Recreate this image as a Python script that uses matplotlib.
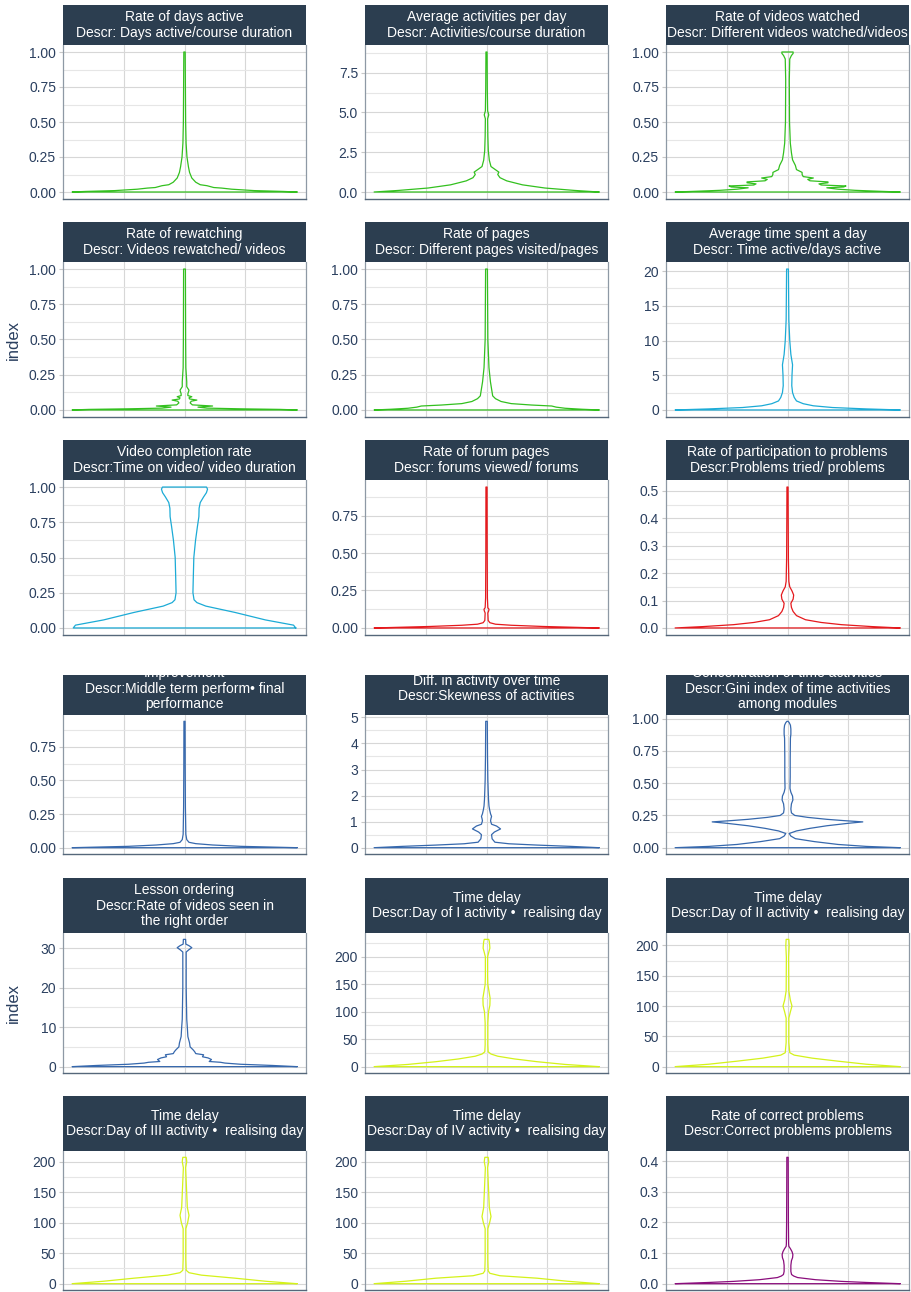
import numpy as np
import matplotlib
matplotlib.use("Agg")
import matplotlib.pyplot as plt
from matplotlib.ticker import MultipleLocator, FormatStrFormatter

plt.rcParams['font.family'] = ['Liberation Sans', 'DejaVu Sans']

# ---- data: violin outlines (value, relative half-width) ----
days_active_y = [0, 0.004, 0.01, 0.02, 0.028, 0.032, 0.045, 0.052, 0.07, 0.1, 0.14, 0.18, 0.25, 0.35, 0.5, 0.75, 1.0]
days_active_w = [1.0, 0.88, 0.62, 0.42, 0.33, 0.26, 0.2, 0.14, 0.1, 0.065, 0.045, 0.035, 0.022, 0.014, 0.01, 0.008, 0.006]

activities_y = [0, 0.1, 0.25, 0.45, 0.7, 0.9, 1.1, 1.25, 1.4, 1.6, 2.0, 2.6, 3.5, 4.6, 4.85, 5.1, 6.5, 8.8]
activities_w = [1.0, 0.78, 0.52, 0.32, 0.18, 0.12, 0.1, 0.11, 0.08, 0.04, 0.025, 0.016, 0.012, 0.01, 0.02, 0.01, 0.007, 0.005]

videos_y = [0, 0.005, 0.012, 0.02, 0.03, 0.036, 0.043, 0.05, 0.058, 0.066, 0.072, 0.08, 0.09, 0.1, 0.11,
            0.125, 0.14, 0.16, 0.19, 0.23, 0.28, 0.35, 0.5, 0.8, 0.95, 0.975, 0.99, 1.0]
videos_w = [1.0, 0.82, 0.6, 0.45, 0.35, 0.5, 0.52, 0.3, 0.28, 0.36, 0.36, 0.2, 0.18, 0.23, 0.14,
            0.13, 0.13, 0.08, 0.07, 0.045, 0.035, 0.025, 0.018, 0.016, 0.02, 0.035, 0.05, 0.05]

rewatch_y = [0, 0.004, 0.008, 0.013, 0.02, 0.028, 0.036, 0.05, 0.062, 0.07, 0.078, 0.086, 0.094, 0.102,
             0.115, 0.14, 0.165, 0.2, 0.3, 0.5, 1.0]
rewatch_w = [1.0, 0.85, 0.5, 0.2, 0.12, 0.25, 0.07, 0.05, 0.06, 0.11, 0.045, 0.04, 0.065, 0.03,
             0.03, 0.04, 0.02, 0.02, 0.012, 0.01, 0.008]

pages_y = [0, 0.005, 0.012, 0.02, 0.028, 0.035, 0.045, 0.06, 0.08, 0.1, 0.15, 0.2, 0.3, 0.5, 0.75, 1.0]
pages_w = [1.0, 0.85, 0.7, 0.62, 0.58, 0.4, 0.22, 0.13, 0.08, 0.055, 0.045, 0.035, 0.022, 0.012, 0.01, 0.008]

time_day_y = [0, 0.15, 0.35, 0.6, 0.9, 1.3, 1.8, 2.5, 3.5, 5, 6.5, 8, 10, 13, 16.5, 20.3]
time_day_w = [1.0, 0.7, 0.4, 0.23, 0.14, 0.08, 0.06, 0.045, 0.038, 0.04, 0.045, 0.03, 0.02, 0.012, 0.01, 0.008]

completion_y = [0, 0.02, 0.057, 0.11, 0.155, 0.18, 0.2, 0.25, 0.35, 0.5, 0.62, 0.72, 0.79, 0.85, 0.89, 0.93, 0.96, 0.985, 1.0]
completion_w = [0.99, 0.97, 0.72, 0.45, 0.19, 0.11, 0.085, 0.075, 0.078, 0.083, 0.098, 0.115, 0.128, 0.13, 0.14, 0.17, 0.195, 0.205, 0.196]

forum_y = [0, 0.004, 0.01, 0.018, 0.025, 0.035, 0.05, 0.1, 0.115, 0.125, 0.135, 0.2, 0.5, 0.94]
forum_w = [1.0, 0.8, 0.5, 0.22, 0.08, 0.03, 0.015, 0.012, 0.02, 0.022, 0.012, 0.008, 0.006, 0.005]

tried_y = [0, 0.005, 0.012, 0.02, 0.03, 0.045, 0.06, 0.075, 0.09, 0.105, 0.12, 0.135, 0.15, 0.17, 0.25, 0.4, 0.514]
tried_w = [1.0, 0.75, 0.48, 0.3, 0.16, 0.08, 0.05, 0.035, 0.03, 0.05, 0.055, 0.04, 0.02, 0.012, 0.008, 0.006, 0.005]

improve_y = [0, 0.004, 0.01, 0.02, 0.03, 0.04, 0.06, 0.1, 0.3, 0.6, 0.94]
improve_w = [1.0, 0.8, 0.5, 0.25, 0.1, 0.04, 0.02, 0.012, 0.008, 0.006, 0.005]

skew_y = [0, 0.05, 0.1, 0.15, 0.21, 0.34, 0.5, 0.6, 0.72, 0.83, 0.9, 1.03, 1.12, 1.2, 1.3, 1.45, 1.6, 1.85, 2.2, 2.6, 3.5, 4.85]
skew_w = [1.0, 0.75, 0.45, 0.2, 0.075, 0.05, 0.045, 0.07, 0.125, 0.09, 0.045, 0.036, 0.04, 0.045, 0.036, 0.028, 0.022, 0.018, 0.015, 0.012, 0.009, 0.007]

gini_y = [0, 0.01, 0.025, 0.047, 0.07, 0.09, 0.11, 0.13, 0.15, 0.17, 0.19, 0.2, 0.21, 0.22, 0.235, 0.25,
          0.27, 0.3, 0.34, 0.37, 0.4, 0.43, 0.46, 0.55, 0.7, 0.85, 0.88, 0.92, 0.95, 0.97, 0.98]
gini_w = [1.0, 0.7, 0.45, 0.24, 0.07, 0.03, 0.015, 0.08, 0.2, 0.35, 0.55, 0.67, 0.5, 0.35, 0.18, 0.065,
          0.035, 0.03, 0.035, 0.048, 0.045, 0.03, 0.022, 0.024, 0.024, 0.026, 0.03, 0.03, 0.026, 0.015, 0.005]

order_y = [0, 0.3, 0.6, 0.9, 1.1, 1.3, 1.8, 2.2, 2.5, 3.0, 3.3, 3.8, 4.3, 5, 6, 7.6, 10, 12, 20, 29, 29.6, 30.1, 30.6, 31, 32.2]
order_w = [1.0, 0.78, 0.5, 0.36, 0.32, 0.22, 0.24, 0.21, 0.16, 0.17, 0.1, 0.09, 0.075, 0.05, 0.045, 0.03, 0.025, 0.02, 0.015, 0.015, 0.04, 0.065, 0.04, 0.012, 0.01]

delay1_y = [0, 4, 9, 14, 19, 23, 27, 40, 80, 100, 112, 125, 140, 150, 165, 200, 210, 216, 222, 228, 232]
delay1_w = [1.0, 0.7, 0.45, 0.25, 0.1, 0.04, 0.015, 0.012, 0.012, 0.018, 0.03, 0.032, 0.02, 0.012, 0.01, 0.01, 0.022, 0.03, 0.028, 0.025, 0.02]

delay2_y = [0, 4, 9, 14, 19, 23, 40, 80, 90, 100, 110, 125, 180, 200, 210]
delay2_w = [1.0, 0.7, 0.45, 0.22, 0.06, 0.02, 0.012, 0.012, 0.025, 0.04, 0.025, 0.012, 0.01, 0.015, 0.012]

delay3_y = [0, 4, 9, 14, 18, 22, 40, 90, 100, 112, 125, 190, 200, 207]
delay3_w = [1.0, 0.72, 0.45, 0.15, 0.04, 0.015, 0.012, 0.012, 0.028, 0.04, 0.025, 0.01, 0.02, 0.015]

delay4_y = [0, 4, 9, 13, 17, 21, 40, 90, 100, 110, 125, 190, 200, 207]
delay4_w = [1.0, 0.72, 0.45, 0.12, 0.03, 0.015, 0.012, 0.012, 0.028, 0.04, 0.025, 0.01, 0.02, 0.015]

correct_y = [0, 0.004, 0.0075, 0.013, 0.02, 0.025, 0.03, 0.04, 0.06, 0.075, 0.085, 0.095, 0.105, 0.115, 0.122, 0.13, 0.2, 0.3, 0.413]
correct_w = [1.0, 0.7, 0.48, 0.25, 0.09, 0.055, 0.036, 0.03, 0.03, 0.035, 0.045, 0.048, 0.04, 0.025, 0.012, 0.01, 0.008, 0.007, 0.006]

titles = [
    "Rate of days active\nDescr: Days active/course duration",
    "Average activities per day\nDescr: Activities/course duration",
    "Rate of videos watched\nDescr: Different videos watched/videos",
    "Rate of rewatching\nDescr: Videos rewatched/ videos",
    "Rate of pages\nDescr: Different pages visited/pages",
    "Average time spent a day\nDescr: Time active/days active",
    "Video completion rate\nDescr:Time on video/ video duration",
    "Rate of forum pages\nDescr: forums viewed/ forums",
    "Rate of participation to problems\nDescr:Problems tried/ problems",
    "Improvement\nDescr:Middle term perform\u2022 final\nperformance",
    "Diff. in activity over time\nDescr:Skewness of activities",
    "Concentration of time activities\nDescr:Gini index of time activities\namong modules",
    "Lesson ordering\nDescr:Rate of videos seen in\nthe right order",
    "Time delay\nDescr:Day of I activity \u2022  realising day",
    "Time delay\nDescr:Day of II activity \u2022  realising day",
    "Time delay\nDescr:Day of III activity \u2022  realising day",
    "Time delay\nDescr:Day of IV activity \u2022  realising day",
    "Rate of correct problems\nDescr:Correct problems problems",
]

profiles = [
    (days_active_y, days_active_w), (activities_y, activities_w), (videos_y, videos_w),
    (rewatch_y, rewatch_w), (pages_y, pages_w), (time_day_y, time_day_w),
    (completion_y, completion_w), (forum_y, forum_w), (tried_y, tried_w),
    (improve_y, improve_w), (skew_y, skew_w), (gini_y, gini_w),
    (order_y, order_w), (delay1_y, delay1_w), (delay2_y, delay2_w),
    (delay3_y, delay3_w), (delay4_y, delay4_w), (correct_y, correct_w),
]

tick_steps = [0.25, 2.5, 0.25, 0.25, 0.25, 5, 0.25, 0.25, 0.1,
              0.25, 1, 0.25, 10, 50, 50, 50, 50, 0.1]

GREEN, BLUE, RED, STEEL, LIME, PURPLE = '#33c01f', '#1cabd6', '#e5191d', '#3668ad', '#d4f21a', '#8a0d7c'
colors = [GREEN] * 5 + [BLUE] * 2 + [RED] * 2 + [STEEL] * 4 + [LIME] * 4 + [PURPLE]

# ---- layout in pixels ----
W, H = 911, 1292
col_x = [63, 365, 666]
col_w = 243
rows = [(5, 45, 199), (222, 262, 417), (440, 480, 635),
        (675, 715, 854), (878, 933, 1073), (1096, 1151, 1290)]
text_center = [0.5, 0.5, 0.5, 0.66, 0.5, 0.5]
HW = 0.925
TXT = '#2a3f5f'

fig = plt.figure(figsize=(W / 100, H / 100), dpi=100)


def box(x0, top, w, bottom):
    return [x0 / W, 1 - bottom / H, w / W, (bottom - top) / H]


for i in range(18):
    r, c = divmod(i, 3)
    htop, hbot, pbot = rows[r]
    ys, ws = profiles[i]
    ys = np.array(ys)
    ws = np.array(ws) * HW

    ax = fig.add_axes(box(col_x[c], hbot, col_w, pbot))
    x = np.concatenate([ws, -ws[::-1], ws[:1]])
    y = np.concatenate([ys, ys[::-1], ys[:1]])
    ax.plot(x, y, color=colors[i], lw=0.9, zorder=3)

    m = ys.max()
    ax.set_ylim(-0.05 * m, 1.05 * m)
    ax.set_xlim(-1, 1)
    step = tick_steps[i]
    ax.yaxis.set_major_locator(MultipleLocator(step))
    ax.yaxis.set_minor_locator(MultipleLocator(step / 2))
    if step == 0.25:
        ax.yaxis.set_major_formatter(FormatStrFormatter('%.2f'))
    elif step in (2.5, 0.1):
        ax.yaxis.set_major_formatter(FormatStrFormatter('%.1f'))
    else:
        ax.yaxis.set_major_formatter(FormatStrFormatter('%d'))
    ax.set_xticks([-0.5, 0, 0.5])
    ax.tick_params(axis='x', length=0, labelbottom=False)
    ax.tick_params(axis='y', which='major', length=3, width=0.8, color='#c8c8c8',
                   pad=2, labelsize=10, labelcolor=TXT)
    ax.tick_params(axis='y', which='minor', length=0)
    ax.grid(True, which='major', color='#d7d7d7', lw=0.8)
    ax.grid(True, which='minor', axis='y', color='#e6e6e6', lw=0.8)
    ax.set_axisbelow(True)
    ax.spines['top'].set_visible(False)
    for s in ('left', 'right'):
        ax.spines[s].set_color('#8e99a5')
        ax.spines[s].set_linewidth(0.9)
    ax.spines['bottom'].set_color('#55677a')
    ax.spines['bottom'].set_linewidth(1.0)

    hax = fig.add_axes(box(col_x[c], htop, col_w, hbot))
    hax.set_facecolor('#2c3e50')
    hax.set_xticks([])
    hax.set_yticks([])
    for s in hax.spines.values():
        s.set_visible(False)
    hax.text(0.5, text_center[r], titles[i], transform=hax.transAxes, ha='center', va='center',
             color='white', fontsize=10, linespacing=1.1, clip_on=True)

fig.text(13 / W, 1 - 340 / H, 'index', rotation=90, ha='center', va='center', fontsize=12, color=TXT)
fig.text(13 / W, 1 - 1003 / H, 'index', rotation=90, ha='center', va='center', fontsize=12, color=TXT)

fig.savefig('out.png', dpi=100)
